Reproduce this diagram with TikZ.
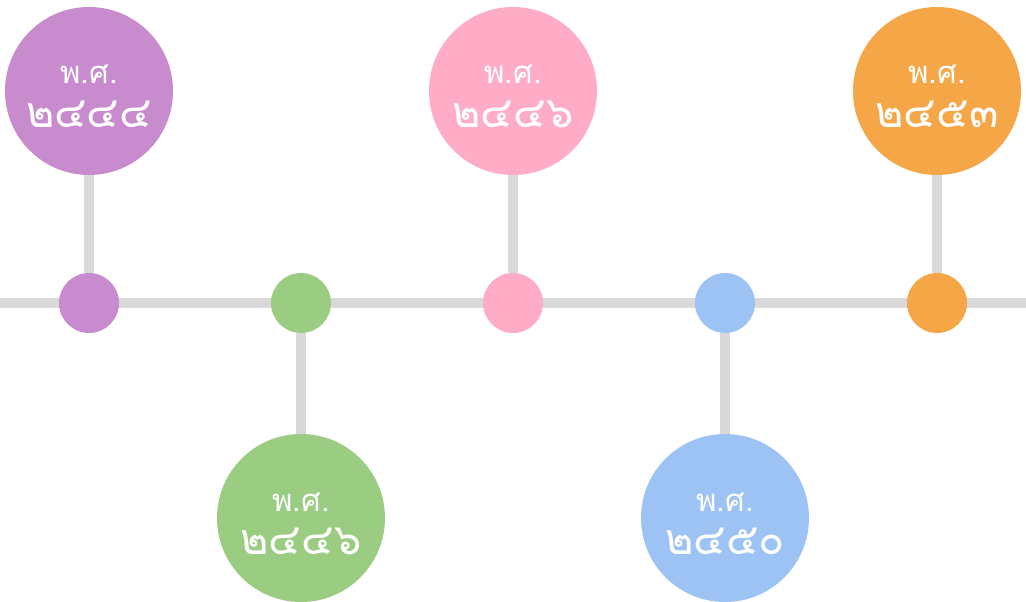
\documentclass[tikz,border=0pt]{standalone}
\usepackage{fontspec}
\newfontfamily\thaifont[Script=Thai]{Loma}
\definecolor{cpurple}{HTML}{C78BCE}
\definecolor{cgreen}{HTML}{9ACD82}
\definecolor{cpink}{HTML}{FFADC6}
\definecolor{cblue}{HTML}{9DC3F5}
\definecolor{corange}{HTML}{F5A647}
\definecolor{cgrey}{HTML}{D9D9D9}
\tikzset{
  bigdot/.style={circle, minimum size=168pt, inner sep=0pt, draw=none},
  smalldot/.style={circle, minimum size=60pt, inner sep=0pt, draw=none},
  conn/.style={draw=cgrey, line width=10pt},
  eratext/.style={text=white, inner sep=0pt, font=\thaifont\fontsize{31}{33}\selectfont},
  numtext/.style={text=white, inner sep=0pt, font=\thaifont\fontsize{43}{45}\selectfont},
}
\begin{document}
\begin{tikzpicture}[x=1pt,y=-1pt]
\useasboundingbox (0,0) rectangle (1026,602);
\coordinate (L) at (0,303);
\coordinate (R) at (1026,303);
\draw[conn] (L) -- (R);
% small dots
\node[smalldot, fill=cpurple] (s1) at (89,303) {};
\node[smalldot, fill=cgreen] (s2) at (301,303) {};
\node[smalldot, fill=cpink] (s3) at (513,303) {};
\node[smalldot, fill=cblue] (s4) at (725,303) {};
\node[smalldot, fill=corange] (s5) at (937,303) {};
% big circles
\node[bigdot, fill=cpurple] (b1) at (89,91) {};
\node[bigdot, fill=cgreen] (b2) at (301,518) {};
\node[bigdot, fill=cpink] (b3) at (513,91) {};
\node[bigdot, fill=cblue] (b4) at (725,518) {};
\node[bigdot, fill=corange] (b5) at (937,91) {};
% stems
\draw[conn] (b1.south) -- (s1.north);
\draw[conn] (b2.north) -- (s2.south);
\draw[conn] (b3.south) -- (s3.north);
\draw[conn] (b4.north) -- (s4.south);
\draw[conn] (b5.south) -- (s5.north);
% texts
\foreach \n/\yr in {1/๒๔๔๔, 2/๒๔๔๖, 3/๒๔๔๖, 4/๒๔๕๐, 5/๒๔๕๓}{
  \node[eratext, anchor=base] (e\n) at ([yshift=7pt]b\n.center) {พ.ศ.};
  \node[numtext, anchor=base] (y\n) at ([yshift=-36pt]b\n.center) {\yr};
}
\end{tikzpicture}
\end{document}
